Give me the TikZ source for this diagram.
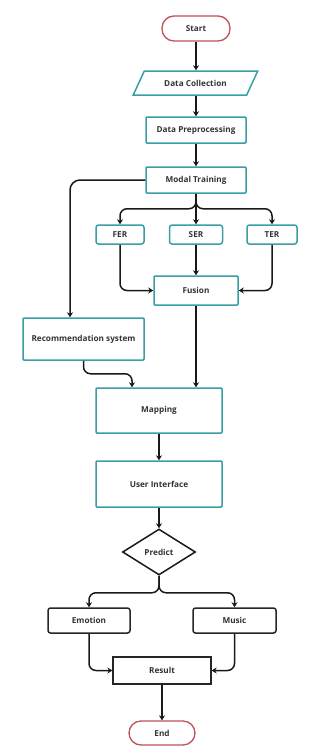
\documentclass[tikz,border=0pt]{standalone}
\usepackage{fontspec}
\setmainfont{Open Sans}
\usetikzlibrary{shapes.geometric,arrows.meta}
\definecolor{teal1}{HTML}{3A9EA5}
\definecolor{red1}{HTML}{C0505A}
\definecolor{txt}{HTML}{333333}
\begin{document}
\begin{tikzpicture}[x=1pt,y=-1pt,
  base/.style={font=\bfseries\fontsize{8.2}{9}\selectfont, text=txt, line width=1.5pt, inner sep=0pt, fill=white},
  tbox/.style={base, draw=teal1, rectangle, rounded corners=1pt},
  bbox/.style={base, draw=black!85, rectangle, rounded corners=2.5pt},
  term/.style={base, draw=red1, rectangle, rounded corners=12pt, line width=1.3pt},
  arr/.style={draw=black!90, line width=1.5pt, -{Stealth[length=5pt,width=6pt]}, rounded corners=7pt}]
\useasboundingbox (0,0) rectangle (336,753);
\fill[white] (0,0) rectangle (336,753);

\node[term, minimum width=68pt, minimum height=25pt] (start) at (196,28.5) {Start};
\node[base, draw=teal1, trapezium, trapezium left angle=43, trapezium right angle=137, trapezium stretches=true, minimum width=125pt, minimum height=24pt] (dc) at (195.5,83) {Data Collection};
\node[tbox, minimum width=100pt, minimum height=26pt] (dp) at (196,130) {Data Preprocessing};
\node[tbox, minimum width=100pt, minimum height=26pt] (mt) at (196,180) {Modal Training};
\node[tbox, rounded corners=2.5pt, minimum width=48pt, minimum height=19pt] (fer) at (120,234.5) {FER};
\node[tbox, rounded corners=2.5pt, minimum width=53pt, minimum height=19pt] (ser) at (196,234.5) {SER};
\node[tbox, rounded corners=2.5pt, minimum width=50pt, minimum height=19pt] (ter) at (272,234.5) {TER};
\node[tbox, minimum width=84pt, minimum height=29pt] (fus) at (196,290.5) {Fusion};
\node[tbox, minimum width=121pt, minimum height=42pt] (rec) at (83.5,339) {Recommendation system};
\node[tbox, minimum width=126pt, minimum height=45pt] (map) at (159,410.5) {Mapping};
\node[tbox, minimum width=126pt, minimum height=46pt] (ui) at (159,484) {User Interface};
\node[base, draw=black!90, diamond, aspect=1.59, minimum width=73pt, minimum height=46pt] (pred) at (159,552) {Predict};
\node[bbox, minimum width=82pt, minimum height=25pt] (emo) at (89,620.5) {Emotion};
\node[bbox, minimum width=83pt, minimum height=25pt] (mus) at (234.5,620.5) {Music};
\node[bbox, rounded corners=0pt, line width=1.3pt, minimum width=98pt, minimum height=27pt] (res) at (162,670.5) {Result};
\node[term, minimum width=66pt, minimum height=24pt] (end) at (162,733) {End};

\draw[arr] (start) -- (start |- dc.north);
\draw[arr] (dc.south -| start) -- (dp);
\draw[arr] (dp) -- (mt);
\draw[arr] (mt.south) -- ++(0,15) -| (fer.north);
\draw[arr] (mt.south) -- ++(0,15) -| (ter.north);
\draw[arr] (mt.south) -- (ser.north);
\draw[arr, rounded corners=10pt] (mt.west) -| ([xshift=-13.5pt]rec.north);
\draw[arr] (fer.south) |- (fus.west);
\draw[arr] (ter.south) |- (fus.east);
\draw[arr] (ser.south) -- (fus.north);
\draw[arr] (fus.south) -- (fus.south |- map.north);
\draw[arr] (rec.south) -- ++(0,13) -| ([xshift=-27pt]map.north);
\draw[arr] (map) -- (ui);
\draw[arr] (ui) -- (pred);
\draw[arr] (pred.south) -- ++(0,17) -| (emo.north);
\draw[arr] (pred.south) -- ++(0,17) -| (mus.north);
\draw[arr] (emo.south) |- (res.west);
\draw[arr] (mus.south) |- (res.east);
\draw[arr] (res) -- (end);
\end{tikzpicture}
\end{document}
